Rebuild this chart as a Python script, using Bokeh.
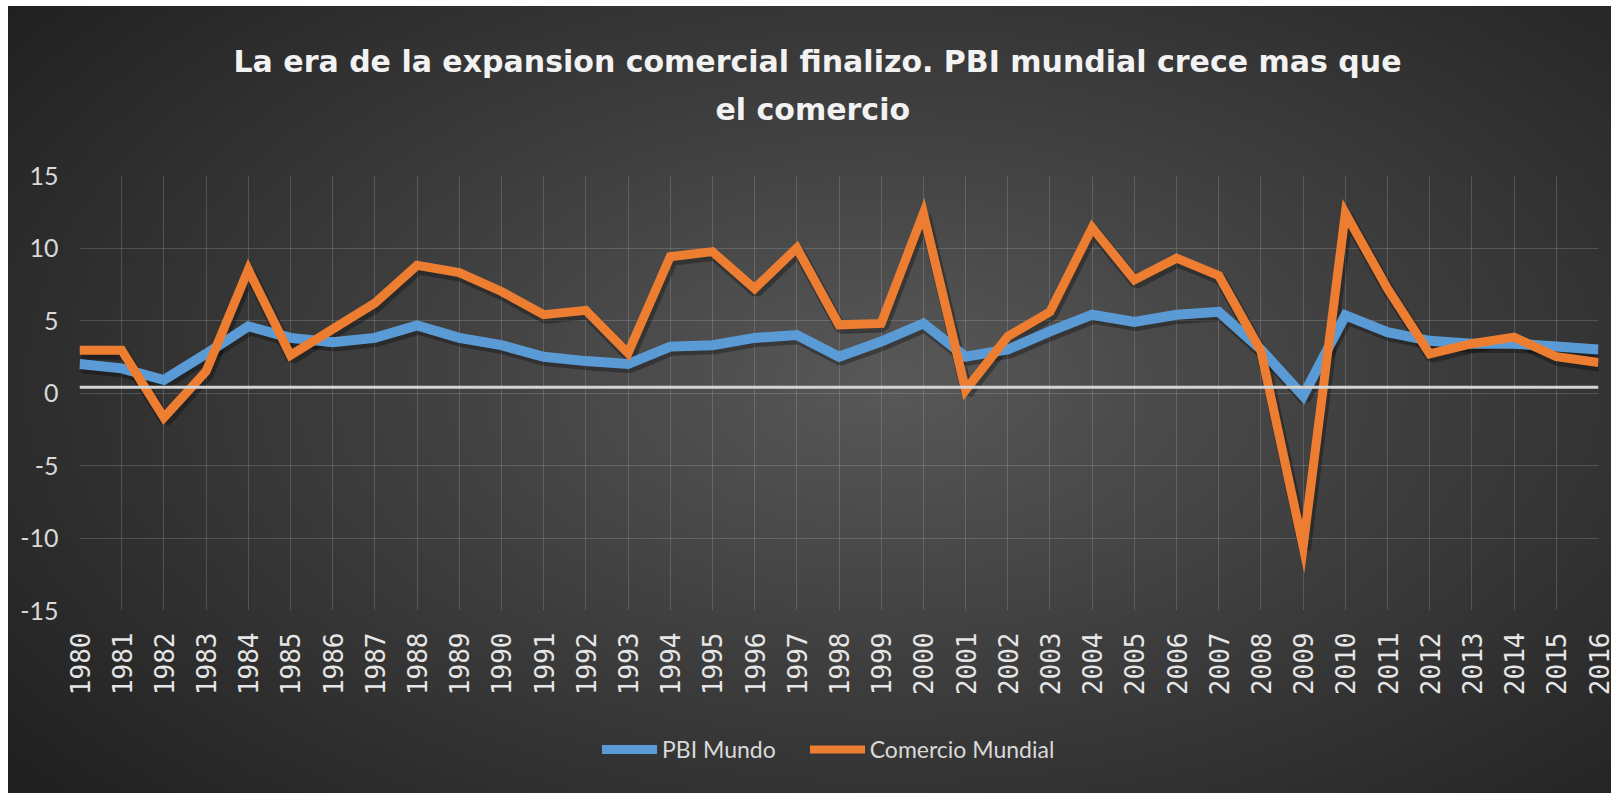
import math
from bokeh.plotting import figure
from bokeh.models import ColumnDataSource, FixedTicker, Span, Legend, LegendItem, Title, Range1d
from bokeh.transform import dodge
from bokeh.embed import file_html
from bokeh.resources import INLINE

years = [1980, 1981, 1982, 1983, 1984, 1985, 1986, 1987, 1988, 1989, 1990, 1991, 1992,
         1993, 1994, 1995, 1996, 1997, 1998, 1999, 2000, 2001, 2002, 2003, 2004,
         2005, 2006, 2007, 2008, 2009, 2010, 2011, 2012, 2013, 2014, 2015, 2016]
pbi_mundo = [2.0, 1.7, 0.9, 2.7, 4.6, 3.8, 3.5, 3.8, 4.65, 3.8, 3.3, 2.5, 2.2,
             2.0, 3.2, 3.3, 3.8, 4.0, 2.5, 3.55, 4.8, 2.5, 3.0, 4.25, 5.4,
             4.9, 5.4, 5.6, 3.0, -0.2, 5.35, 4.2, 3.6, 3.4, 3.4, 3.2, 3.0]
comercio_mundial = [2.95, 2.95, -1.7, 1.5, 8.5, 2.6, 4.4, 6.2, 8.8, 8.3, 7.0, 5.4, 5.7,
                    2.75, 9.4, 9.75, 7.2, 10.0, 4.7, 4.8, 12.4, 0.2, 3.9, 5.6, 11.4,
                    7.8, 9.3, 8.1, 2.9, -10.6, 12.4, 7.2, 2.7, 3.4, 3.85, 2.5, 2.1]
y_ticks = [-15, -10, -5, 0, 5, 10, 15]
title_line1 = "La era de la expansion comercial finalizo. PBI mundial crece mas que"
title_line2 = "el comercio"
series_names = ["PBI Mundo", "Comercio Mundial"]
zero_line_y = 0.4

BLUE = "#5B9BD5"
ORANGE = "#ED7D31"

src = ColumnDataSource(dict(year=years, pbi=pbi_mundo, com=comercio_mundial))

p = figure(frame_width=1519, frame_height=435, output_backend="svg", toolbar_location=None,
           x_range=(years[0], years[-1]), y_range=(y_ticks[0], y_ticks[-1]),
           min_border_left=71, min_border_right=13, min_border_top=0, min_border_bottom=183)
p.styles = {"background": "radial-gradient(ellipse 70% 80% at 55% 48%, #585858 0%, #3e3e3e 45%, #202020 100%)",
            "margin-left": "8px", "margin-top": "6px"}
p.background_fill_alpha = 0
p.border_fill_alpha = 0
p.outline_line_color = None

# grids
p.xgrid.ticker = FixedTicker(ticks=years)
p.ygrid.ticker = FixedTicker(ticks=y_ticks)
for g in (p.xgrid, p.ygrid):
    g.grid_line_color = "#c8c8c8"
    g.grid_line_alpha = 0.22
    g.grid_line_width = 1

# axes
p.xaxis.ticker = FixedTicker(ticks=years)
p.xaxis.major_label_orientation = math.pi / 2
p.xaxis.major_label_text_font = "DejaVu Sans Mono"
p.xaxis.major_label_text_font_size = "26px"
p.xaxis.major_label_text_color = "#e6e6e6"
p.xaxis.major_label_standoff = 22
p.yaxis.ticker = FixedTicker(ticks=y_ticks)
p.yaxis.major_label_overrides = {t: str(t) for t in y_ticks}
p.yaxis.major_label_text_font = "Lato"
p.yaxis.major_label_text_font_size = "25px"
p.yaxis.major_label_text_color = "#d9d9d9"
p.yaxis.major_label_standoff = 21
for ax in (p.xaxis, p.yaxis):
    ax.axis_line_color = None
    ax.major_tick_line_color = None
    ax.minor_tick_line_color = None
    ax.major_tick_out = 0
    ax.major_tick_in = 0

p.add_layout(Span(location=zero_line_y, dimension="width", line_color="#d4d4d4", line_width=3))

# shadows
p.line(x=dodge("year", 0.04, range=p.x_range), y=dodge("pbi", -0.22, range=p.y_range), source=src,
       line_color="#000000", line_alpha=0.3, line_width=12)
p.line(x=dodge("year", 0.04, range=p.x_range), y=dodge("com", -0.22, range=p.y_range), source=src,
       line_color="#000000", line_alpha=0.3, line_width=12)

p.line("year", "pbi", source=src, line_color=BLUE, line_width=10, line_join="miter")
p.line("year", "com", source=src, line_color=ORANGE, line_width=9, line_join="miter")

# titles (stacked from the plot upward: spacer, line 2, line 1, spacer)
title_style = dict(align="left", text_font="DejaVu Sans", text_font_style="bold",
                   text_font_size="30px", text_color="#f2f2f2", text_line_height=1.0)
t_sp = Title(text=" ", standoff=1.5, align="center", text_font_size="30px", text_line_height=1.0)
t2 = Title(text=title_line2, standoff=23, offset=636, **title_style)
t1 = Title(text=title_line1, standoff=0, offset=154, **title_style)
t_top = Title(text=" ", standoff=0, align="center", text_font_size="30px", text_line_height=1.0)
p.add_layout(t_sp, "above")
p.add_layout(t2, "above")
p.add_layout(t1, "above")
p.add_layout(t_top, "above")

# legend (own small canvas, placed under the axis labels)
leg = figure(width=470, height=40, output_backend="svg", toolbar_location=None,
             x_axis_location=None, y_axis_location=None, min_border=0,
             x_range=Range1d(0, 1), y_range=Range1d(0, 1))
leg.grid.visible = False
leg.outline_line_color = None
leg.background_fill_alpha = 0
leg.border_fill_alpha = 0
leg.styles = {"position": "absolute", "left": "602px", "top": "729px"}
lr1 = leg.line("year", "pbi", source=src, line_color=BLUE, line_width=9, line_cap="round")
lr2 = leg.line("year", "com", source=src, line_color=ORANGE, line_width=8, line_cap="round")
legend = Legend(items=[LegendItem(label=series_names[0], renderers=[lr1]),
                       LegendItem(label=series_names[1], renderers=[lr2])],
                orientation="horizontal", location="left",
                label_text_font="Lato", label_text_font_size="23px",
                label_text_color="#d9d9d9", glyph_width=55, glyph_height=20,
                label_standoff=5, spacing=34, background_fill_alpha=0,
                border_line_color=None, margin=0, padding=0)
leg.add_layout(legend, "center")

open("out.html", "w").write(file_html([p, leg], INLINE))
